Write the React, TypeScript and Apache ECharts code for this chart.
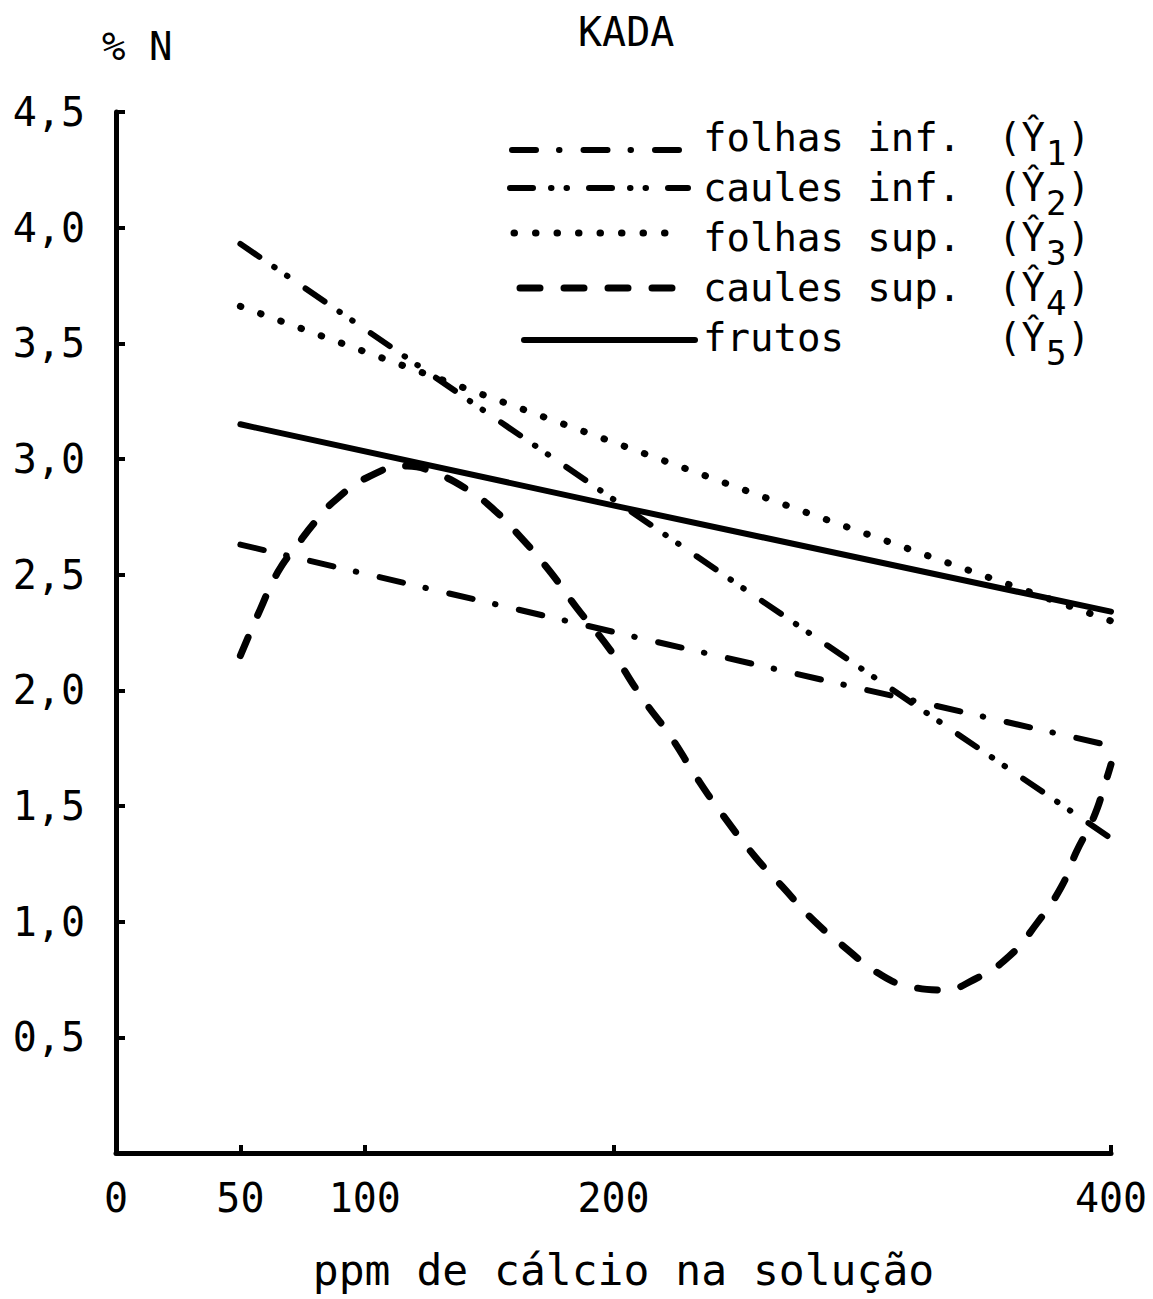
import React, { useEffect, useRef } from 'react';
import * as echarts from 'echarts';

const FONT = "'DejaVu Sans Mono', 'Liberation Mono', monospace";

// axis values
const xLabelValues = [0, 50, 100, 200, 400];
const xTickValues = [50, 100, 200, 400];
const yMin = 0;
const yMax = 4.5;
const yStep = 0.5;

// series (ppm de cálcio, % N)
const folhasInf = [[50, 2.63], [209, 2.23], [400, 1.76]];
const caulesInf = [[50, 3.93], [251, 2.45], [400, 1.36]];
const folhasSup = [[50, 3.66], [272, 2.79], [400, 2.3]];
const caulesSup = [
  [50, 2.15], [58, 2.35], [65, 2.51], [73, 2.63], [81, 2.74], [89, 2.83],
  [101, 2.92], [117, 2.97], [128, 2.94], [141, 2.87], [152, 2.78], [162, 2.67],
  [174, 2.52], [185, 2.36], [199, 2.17], [212, 1.96], [223, 1.8], [233, 1.63],
  [244, 1.46], [257, 1.28], [268, 1.15], [280, 1.01], [294, 0.88], [306, 0.78],
  [319, 0.72], [332, 0.705], [345, 0.75], [359, 0.85], [370, 0.99], [380, 1.15],
  [386, 1.3], [393, 1.45], [398, 1.61], [400, 1.68],
];
const frutos = [[50, 3.15], [204, 2.79], [400, 2.34]];

const seriesNames = ['folhas inf.', 'caules inf.', 'folhas sup.', 'caules sup.', 'frutos'];
const seriesSubs = ['1', '2', '3', '4', '5'];
const seriesData = [folhasInf, caulesInf, folhasSup, caulesSup, frutos];

const seriesDash: any[] = [
  [24, 23, 0.5, 24],
  [23, 18, 0.5, 15, 0.5, 22],
  [0.5, 21],
  [20, 24],
  null,
];
const seriesWidth = [6, 6, 7, 7, 6];

// legend layout
const legendRowY = [137, 187, 237, 287, 337];
const legendLineY = [150, 188, 233, 288, 340];
const legendLineX = [[512, 688], [510, 688], [514, 682], [520, 690], [524, 695]];

export default function App() {
  const ref = useRef<HTMLDivElement>(null);

  useEffect(() => {
    if (!ref.current) return;
    const chart = echarts.init(ref.current, null, { renderer: 'svg' });

    const graphics: any[] = [];
    seriesNames.forEach((name, i) => {
      const [x1, x2] = legendLineX[i];
      graphics.push({
        type: 'line',
        shape: { x1, y1: legendLineY[i], x2, y2: legendLineY[i] },
        style: {
          stroke: '#000',
          lineWidth: seriesWidth[i],
          lineDash: seriesDash[i] || undefined,
          lineCap: 'round',
        },
      });
      graphics.push({
        type: 'text',
        x: 703,
        y: legendRowY[i],
        style: {
          text: name,
          fontFamily: FONT,
          fontSize: 39,
          fill: '#000',
          textAlign: 'left',
          textVerticalAlign: 'middle',
        },
      });
      graphics.push({
        type: 'text',
        x: 998,
        y: legendRowY[i],
        style: {
          text: '(Ŷ',
          fontFamily: FONT,
          fontSize: 39,
          fill: '#000',
          textAlign: 'left',
          textVerticalAlign: 'middle',
        },
      });
      graphics.push({
        type: 'text',
        x: 1046,
        y: legendRowY[i] + 16,
        style: {
          text: seriesSubs[i],
          fontFamily: FONT,
          fontSize: 34,
          fill: '#000',
          textAlign: 'left',
          textVerticalAlign: 'middle',
        },
      });
      graphics.push({
        type: 'text',
        x: 1067,
        y: legendRowY[i],
        style: {
          text: ')',
          fontFamily: FONT,
          fontSize: 39,
          fill: '#000',
          textAlign: 'left',
          textVerticalAlign: 'middle',
        },
      });
    });

    const option: any = {
      animation: false,
      backgroundColor: '#fff',
      title: [
        {
          text: 'KADA',
          left: 573,
          top: 7,
          textStyle: { fontFamily: FONT, fontSize: 40, fontWeight: 'normal', color: '#000' },
        },
        {
          text: '% N',
          left: 97,
          top: 22,
          textStyle: { fontFamily: FONT, fontSize: 39, fontWeight: 'normal', color: '#000' },
        },
      ],
      grid: {
        left: 116,
        right: 42,
        top: 112,
        bottom: 146,
        containLabel: false,
        outerBoundsMode: 'none',
      },
      xAxis: {
        type: 'value',
        min: 0,
        max: 400,
        name: 'ppm de cálcio na solução',
        nameLocation: 'middle',
        nameGap: 95,
        nameTextStyle: { fontFamily: FONT, fontSize: 43, color: '#000', padding: [0, 0, 0, 20] },
        axisLine: { show: true, onZero: false, lineStyle: { color: '#000', width: 5 } },
        axisTick: {
          show: true,
          inside: true,
          length: 8,
          customValues: xTickValues,
          lineStyle: { color: '#000', width: 4 },
        },
        axisLabel: {
          customValues: xLabelValues,
          fontFamily: FONT,
          fontSize: 40,
          color: '#000',
          margin: 25,
          showMinLabel: true,
          showMaxLabel: true,
        },
        splitLine: { show: false },
      },
      yAxis: {
        type: 'value',
        min: yMin,
        max: yMax,
        interval: yStep,
        axisLine: { show: true, onZero: false, lineStyle: { color: '#000', width: 5 } },
        axisTick: { show: true, inside: true, length: 9, lineStyle: { color: '#000', width: 4 } },
        axisLabel: {
          formatter: (v: number) => (v === 0 ? '' : v.toFixed(1).replace('.', ',')),
          fontFamily: FONT,
          fontSize: 40,
          color: '#000',
          margin: 31,
          padding: [14, 0, 0, 0],
        },
        splitLine: { show: false },
      },
      series: seriesData.map((data, i) => ({
        name: seriesNames[i],
        type: 'line',
        data,
        showSymbol: false,
        symbol: 'none',
        clip: false,
        smooth: i === 3 ? 0.5 : false,
        lineStyle: {
          color: '#000',
          width: seriesWidth[i],
          type: seriesDash[i] || 'solid',
          cap: 'round',
          join: 'round',
        },
      })),
      graphic: graphics,
    };

    chart.setOption(option);
    return () => chart.dispose();
  }, []);

  return (
    <div
      ref={ref}
      style={{ position: 'fixed', left: 0, top: 0, width: 1153, height: 1299, background: '#fff' }}
    />
  );
}
